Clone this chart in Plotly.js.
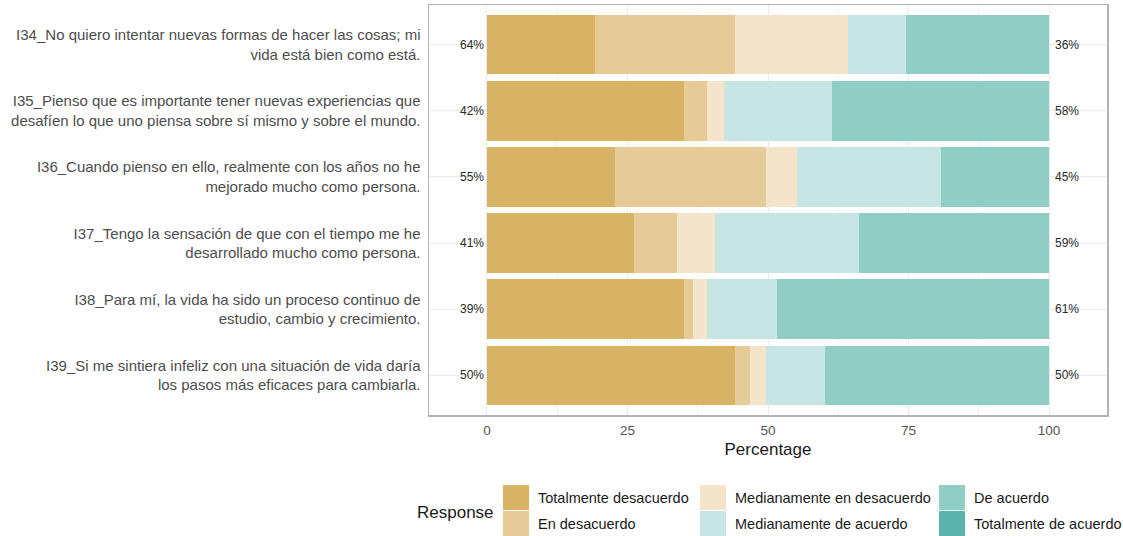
<!DOCTYPE html>
<html>
<head>
<meta charset="utf-8">
<script src="https://cdn.plot.ly/plotly-3.0.1.min.js"></script>
<style>html,body{margin:0;padding:0;background:#fff;}#chart{width:1123px;height:536px;}</style>
</head>
<body>
<div id="chart"></div>
<script>
const items = [
  "I34_No quiero intentar nuevas formas de hacer las cosas; mi<br>vida está bien como está.",
  "I35_Pienso que es importante tener nuevas experiencias que<br>desafíen lo que uno piensa sobre sí mismo y sobre el mundo.",
  "I36_Cuando pienso en ello, realmente con los años no he<br>mejorado mucho como persona.",
  "I37_Tengo la sensación de que con el tiempo me he<br>desarrollado mucho como persona.",
  "I38_Para mí, la vida ha sido un proceso continuo de<br>estudio, cambio y crecimiento.",
  "I39_Si me sintiera infeliz con una situación de vida daría<br>los pasos más eficaces para cambiarla."
];
const responses = ["Totalmente desacuerdo","En desacuerdo","Medianamente en desacuerdo","Medianamente de acuerdo","De acuerdo","Totalmente de acuerdo"];
const colors = ["#d8b365","#e6cb98","#f4e5ca","#c7e6e3","#90cdc5","#5ab4ac"];
const totDesacuerdo   = [19.2, 35.1, 22.7, 26.2, 35.1, 44.2];
const enDesacuerdo    = [25.0,  4.1, 26.9,  7.7,  1.5,  2.6];
const medDesacuerdo   = [20.0,  2.9,  5.5,  6.7,  2.6,  2.8];
const medAcuerdo      = [10.3, 19.3, 25.6, 25.6, 12.4, 10.5];
const deAcuerdo       = [25.5, 38.6, 19.3, 33.8, 48.4, 39.9];
const totAcuerdo      = [ 0.0,  0.0,  0.0,  0.0,  0.0,  0.0];
const xTicks = [0, 25, 50, 75, 100];

const series = [totDesacuerdo, enDesacuerdo, medDesacuerdo, medAcuerdo, deAcuerdo, totAcuerdo];
const FONT = "Liberation Sans, Arial, sans-serif";

const traces = series.map((vals, i) => ({
  type: "bar", orientation: "h",
  x: vals, y: items, name: responses[i],
  marker: {color: colors[i], line: {width: 0}},
  width: 0.9, showlegend: false, hoverinfo: "x+name"
}));

const annotations = [];
items.forEach((it, j) => {
  const low = series[0][j] + series[1][j] + series[2][j];
  const high = series[3][j] + series[4][j] + series[5][j];
  annotations.push({x: 0, y: it, xref: "x", yref: "y", text: Math.round(low) + "%",
    showarrow: false, xanchor: "right", xshift: -1, font: {family: FONT, size: 12, color: "#2a2a2a"}});
  annotations.push({x: 100, y: it, xref: "x", yref: "y", text: Math.round(high) + "%",
    showarrow: false, xanchor: "left", xshift: 4, font: {family: FONT, size: 12, color: "#2a2a2a"}});
});

// manual legend (ggplot style, 2 rows, column-wise)
const W = 1123, H = 536, mL = 429, mR = 16, mT = 5, mB = 121;
const pw = W - mL - mR, ph = H - mT - mB;
const px = v => (v - mL) / pw;
const py = v => (H - mB - v) / ph;
const colX = [503, 700, 939];
const rowY = [485, 511];
const shapes = [];
responses.forEach((r, i) => {
  const c = Math.floor(i / 2), rr = i % 2;
  const x0 = colX[c], y0 = rowY[rr];
  shapes.push({type: "rect", xref: "paper", yref: "paper",
    x0: px(x0), x1: px(x0 + 26), y0: py(y0), y1: py(y0 + 25),
    fillcolor: colors[i], line: {width: 0}, layer: "above"});
  annotations.push({xref: "paper", yref: "paper", x: px(x0 + 33), y: py(y0 + 13),
    text: r, showarrow: false, xanchor: "left", yanchor: "middle",
    font: {family: FONT, size: 14.5, color: "#1a1a1a"}});
});
annotations.push({xref: "paper", yref: "paper", x: px(496), y: py(512),
  text: "Response", showarrow: false, xanchor: "right", yanchor: "middle",
  font: {family: FONT, size: 17, color: "#1a1a1a"}});

const layout = {
  width: W, height: H,
  margin: {l: mL, r: mR, t: mT, b: mB, pad: 0},
  paper_bgcolor: "#fff", plot_bgcolor: "#fff",
  barmode: "stack", bargap: 0.1,
  showlegend: false,
  font: {family: FONT},
  xaxis: {
    range: [-10.3, 110.3], tickvals: xTicks, ticktext: xTicks.map(String),
    showgrid: true, gridcolor: "#ebebeb", gridwidth: 1,
    minor: {dtick: 12.5, tick0: 0, showgrid: true, gridcolor: "#f2f2f2", gridwidth: 1},
    zeroline: false, showline: true, mirror: true, linecolor: "#b3b3b3", linewidth: 1.5,
    ticks: "outside", ticklen: 2, tickcolor: "rgba(0,0,0,0)",
    tickfont: {family: FONT, size: 13.5, color: "#555"},
    title: {text: "Percentage", font: {family: FONT, size: 17, color: "#1a1a1a"}, standoff: 6},
    fixedrange: true
  },
  yaxis: {
    type: "category", categoryorder: "array", categoryarray: items,
    range: [5.6, -0.6],
    showgrid: true, gridcolor: "#ebebeb", zeroline: false,
    showline: true, mirror: true, linecolor: "#b3b3b3", linewidth: 1.5,
    ticks: "outside", ticklen: 4, tickcolor: "rgba(0,0,0,0)",
    tickfont: {family: FONT, size: 15, color: "#4d4d4d"},
    fixedrange: true
  },
  annotations: annotations,
  shapes: shapes
};

Plotly.newPlot("chart", traces, layout, {displayModeBar: false, staticPlot: true});
</script>
</body>
</html>
